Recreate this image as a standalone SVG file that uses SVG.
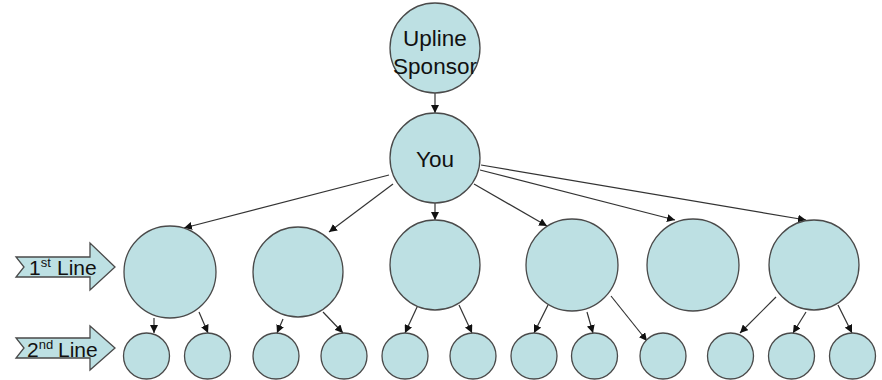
<svg xmlns="http://www.w3.org/2000/svg" width="882" height="380" viewBox="0 0 882 380">
  <style>
    .node { fill: #bde0e3; stroke: #4a4a4a; stroke-width: 1.3; }
    .label { font-family: "Liberation Sans", Arial, sans-serif; font-size: 22.5px; fill: #111; text-anchor: middle; }
    .side { font-family: "Liberation Sans", Arial, sans-serif; font-size: 21px; fill: #111; }
    .sup { font-size: 13px; }
    .edge { stroke: #333; stroke-width: 1.2; fill: none; marker-end: url(#head); }
  </style>
  <defs>
    <marker id="head" viewBox="0 0 10 10" refX="10" refY="5" markerWidth="8" markerHeight="8" markerUnits="userSpaceOnUse" orient="auto">
      <path d="M0,0 L10,5 L0,10 z" fill="#111"/>
    </marker>
  </defs>

  <rect width="882" height="380" fill="#ffffff"/>

  <!-- connectors -->
  <g id="connectors">
    <line class="edge" x1="435" y1="93" x2="435" y2="113"/>
    <line class="edge" x1="389" y1="175" x2="184" y2="228"/>
    <line class="edge" x1="393" y1="184" x2="329" y2="232"/>
    <line class="edge" x1="435" y1="203" x2="435" y2="220"/>
    <line class="edge" x1="474" y1="184" x2="547" y2="226"/>
    <line class="edge" x1="480" y1="170" x2="675" y2="220"/>
    <line class="edge" x1="481" y1="165" x2="806" y2="220"/>

    <line class="edge" x1="154" y1="318" x2="154" y2="333"/>
    <line class="edge" x1="199" y1="312" x2="208" y2="333"/>
    <line class="edge" x1="283" y1="319" x2="277" y2="333"/>
    <line class="edge" x1="323" y1="312" x2="343" y2="333"/>

    <line class="edge" x1="418" y1="305" x2="405" y2="333"/>
    <line class="edge" x1="459" y1="305" x2="472" y2="333"/>

    <line class="edge" x1="548" y1="305" x2="534" y2="333"/>
    <line class="edge" x1="587" y1="312" x2="593" y2="333"/>
    <line class="edge" x1="611" y1="296" x2="647" y2="341"/>

    <line class="edge" x1="776" y1="297" x2="740" y2="333"/>
    <line class="edge" x1="806" y1="312" x2="793" y2="333"/>
    <line class="edge" x1="838" y1="305" x2="852" y2="333"/>
  </g>

  <!-- top of the tree -->
  <g id="upline">
    <circle class="node" cx="435" cy="48" r="45"/>
    <text class="label" x="435" y="46">Upline</text>
    <text class="label" x="435" y="74">Sponsor</text>
  </g>
  <g id="you">
    <circle class="node" cx="435" cy="158" r="45"/>
    <text class="label" x="435" y="167">You</text>
  </g>

  <!-- first line -->
  <g id="first-1"><circle class="node" cx="170" cy="272" r="46"/></g>
  <g id="first-2"><circle class="node" cx="298" cy="272" r="45"/></g>
  <g id="first-3"><circle class="node" cx="435" cy="265" r="45"/></g>
  <g id="first-4"><circle class="node" cx="572" cy="265" r="46"/></g>
  <g id="first-5"><circle class="node" cx="693" cy="265" r="46"/></g>
  <g id="first-6"><circle class="node" cx="814" cy="265" r="45"/></g>

  <!-- second line -->
  <g id="second-1"><circle class="node" cx="146.5" cy="356" r="23"/></g>
  <g id="second-2"><circle class="node" cx="207.5" cy="356" r="23"/></g>
  <g id="second-3"><circle class="node" cx="276" cy="356" r="23"/></g>
  <g id="second-4"><circle class="node" cx="344" cy="356" r="23"/></g>
  <g id="second-5"><circle class="node" cx="405" cy="356" r="23"/></g>
  <g id="second-6"><circle class="node" cx="473" cy="356" r="23"/></g>
  <g id="second-7"><circle class="node" cx="534" cy="356" r="23"/></g>
  <g id="second-8"><circle class="node" cx="594.5" cy="356" r="23"/></g>
  <g id="second-9"><circle class="node" cx="663" cy="356" r="23"/></g>
  <g id="second-10"><circle class="node" cx="730.5" cy="356" r="23"/></g>
  <g id="second-11"><circle class="node" cx="791.5" cy="356" r="23"/></g>
  <g id="second-12"><circle class="node" cx="852.5" cy="356" r="23"/></g>

  <!-- level markers -->
  <g id="level-1">
    <path class="node" d="M16,257 L90,257 L90,243 L115,267 L90,290 L90,277 L16,277 L24,267 Z"/>
    <text class="side" x="29" y="275">1<tspan class="sup" dy="-8">st</tspan><tspan x="57" dy="8">Line</tspan></text>
  </g>
  <g id="level-2">
    <path class="node" d="M16,338 L90,338 L90,326 L115,348 L90,370 L90,358 L16,358 L24,348 Z"/>
    <text class="side" x="27" y="357">2<tspan class="sup" dy="-8">nd</tspan><tspan x="58" dy="8">Line</tspan></text>
  </g>
</svg>
